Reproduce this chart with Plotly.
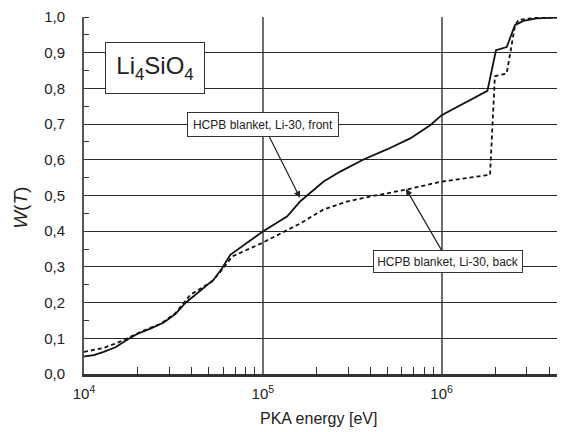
import plotly.graph_objects as go

# ---- data ----
front_energy = [1.0e4, 1.135e4, 1.288e4, 1.50e4, 1.742e4, 1.982e4, 2.355e4, 2.793e4, 3.243e4, 3.69e4,
                5.309e4, 5.916e4, 6.577e4, 1.0e5, 1.365e5, 1.622e5, 2.188e5, 2.71e5, 3.656e5, 4.943e5,
                6.668e5, 8.63e5, 1.0e6, 1.384e6, 1.803e6, 2.014e6, 2.312e6, 2.57e6, 2.864e6, 3.404e6, 5.0e6]
front_w = [0.049, 0.053, 0.062, 0.075, 0.096, 0.112, 0.127, 0.144, 0.168, 0.199,
           0.264, 0.296, 0.334, 0.399, 0.441, 0.484, 0.539, 0.567, 0.601, 0.629,
           0.660, 0.697, 0.725, 0.762, 0.793, 0.907, 0.916, 0.977, 0.989, 0.996, 0.999]

back_energy = [1.0e4, 1.288e4, 1.531e4, 1.82e4, 2.254e4, 2.673e4, 3.243e4, 3.936e4, 5.20e4, 5.916e4,
               6.73e4, 1.0e5, 1.622e5, 2.188e5, 2.951e5, 3.981e5, 6.397e5, 1.0e6, 1.641e6, 1.866e6,
               1.986e6, 2.312e6, 2.57e6, 2.692e6, 3.388e6, 5.0e6]
back_w = [0.062, 0.073, 0.087, 0.105, 0.126, 0.140, 0.170, 0.222, 0.259, 0.292,
          0.329, 0.368, 0.422, 0.461, 0.483, 0.497, 0.517, 0.539, 0.555, 0.558,
          0.834, 0.842, 0.975, 0.992, 0.998, 1.0]

x_tickvals = [1e4, 1e5, 1e6]
x_ticktext = ["10<sup>4</sup>", "10<sup>5</sup>", "10<sup>6</sup>"]
y_tickvals = [0.0, 0.1, 0.2, 0.3, 0.4, 0.5, 0.6, 0.7, 0.8, 0.9, 1.0]
y_ticktext = ["0,0", "0,1", "0,2", "0,3", "0,4", "0,5", "0,6", "0,7", "0,8", "0,9", "1,0"]
x_minor = [m * 10 ** d for d in (4, 5, 6) for m in range(2, 10)]

FONT = "Liberation Sans, Arial, sans-serif"
TXT = "#222222"

OFF = 8  # page body margin
W, H = 565 - OFF, 432 - OFF
# plot area in screen pixels: x 84..565, y 17..374.3
ML, MT = 84 - OFF, 17 - OFF
MR = 0
MB = H - (374.3 - OFF)
PW, PH = W - ML - MR, H - MT - MB


def px(x):  # screen x -> paper
    return (x - OFF - ML) / PW


def py(y):  # screen y -> paper
    return (H - MB - (y - OFF)) / PH


fig = go.Figure()
fig.add_trace(go.Scatter(x=front_energy, y=front_w, mode="lines",
                         line=dict(color="#111111", width=1.8), showlegend=False))
fig.add_trace(go.Scatter(x=back_energy, y=back_w, mode="lines",
                         line=dict(color="#111111", width=1.8, dash="4px,3px"), showlegend=False))

common = dict(xref="paper", yref="paper", xanchor="center", yanchor="middle")
arrow = dict(showarrow=True, arrowhead=2, arrowsize=1.1, arrowwidth=1.2, arrowcolor="#222222")
annotations = [
    dict(x=px(155), y=py(68), text="Li<sub>4</sub>SiO<sub>4</sub>",
         showarrow=False, font=dict(family=FONT, size=24, color=TXT), width=98, height=50,
         bordercolor="#333333", borderwidth=1, bgcolor="white", borderpad=0, **common),
    # label boxes with arrows: (x, y) = arrow tip, (ax, ay) = offset of box centre
    dict(x=px(300), y=py(198), ax=263 - 300, ay=124.5 - 198, text="HCPB blanket, Li-30, front",
         font=dict(family=FONT, size=12, color=TXT), width=150, height=23,
         bordercolor="#333333", borderwidth=1, bgcolor="white", borderpad=0, **arrow, **common),
    dict(x=px(406), y=py(189), ax=448 - 406, ay=261.5 - 189, text="HCPB blanket, Li-30, back",
         font=dict(family=FONT, size=12, color=TXT), width=148, height=21,
         bordercolor="#333333", borderwidth=1, bgcolor="white", borderpad=0, **arrow, **common),
    # axis titles
    dict(x=px(318), y=py(419), text="PKA energy [eV]", showarrow=False,
         font=dict(family=FONT, size=16, color=TXT), **common),
    dict(x=px(21), y=py(208), text="<i>W</i>(<i>T</i>)", showarrow=False,
         textangle=-90, font=dict(family=FONT, size=19, color=TXT), **common),
]

fig.update_layout(
    width=W, height=H,
    margin=dict(l=ML, r=MR, t=MT, b=MB, pad=0),
    paper_bgcolor="white", plot_bgcolor="white",
    font=dict(family=FONT, color=TXT),
    annotations=annotations,
    xaxis=dict(type="log", range=[4, 6.69], tickmode="array", tickvals=x_tickvals, ticktext=x_ticktext,
               tickfont=dict(size=15, color=TXT), ticks="", showgrid=True, gridcolor="#6e6e6e",
               gridwidth=1.5, showline=True, linecolor="#333333", linewidth=3, zeroline=False,
               ticklabelstandoff=4,
               minor=dict(tickmode="array", tickvals=x_minor, ticks="inside", ticklen=7,
                          tickcolor="#333333", tickwidth=1.2, showgrid=False)),
    yaxis=dict(range=[0, 1], tickmode="array", tickvals=y_tickvals, ticktext=y_ticktext,
               tickfont=dict(size=15, color=TXT), ticks="", showgrid=True, gridcolor="#2a2a2a",
               gridwidth=1, showline=True, linecolor="#555555", linewidth=2, zeroline=False,
               ticklabelstandoff=14,
               minor=dict(dtick=0.05, ticks="inside", ticklen=5, tickcolor="#333333",
                          tickwidth=1.2, showgrid=False)),
)

fig.write_html("out.html")
